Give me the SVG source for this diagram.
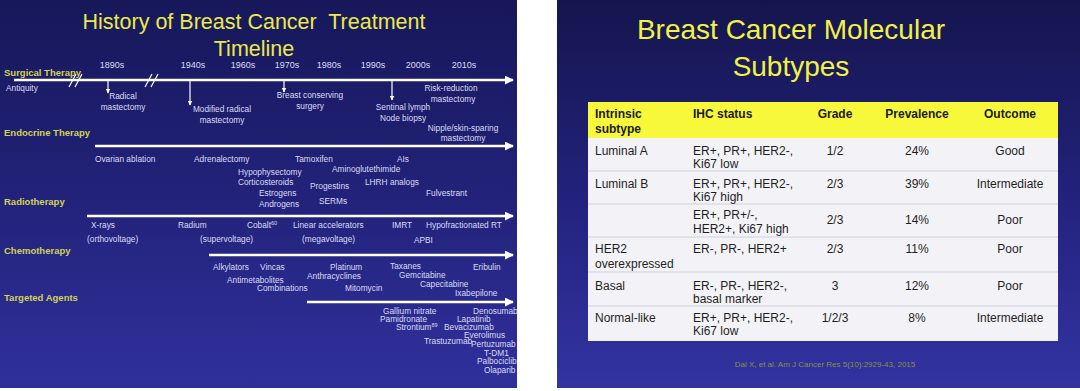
<svg xmlns="http://www.w3.org/2000/svg" width="1080" height="391" viewBox="0 0 1080 391">
<defs>
<linearGradient id="bgL" x1="0" y1="0" x2="0" y2="1">
<stop offset="0" stop-color="#17175a"/>
<stop offset="0.5" stop-color="#22227a"/>
<stop offset="1" stop-color="#30309c"/>
</linearGradient>
<linearGradient id="bgR" x1="0" y1="0" x2="0" y2="1">
<stop offset="0" stop-color="#15154e"/>
<stop offset="0.5" stop-color="#22227c"/>
<stop offset="1" stop-color="#3333a2"/>
</linearGradient>
<marker id="bigHead" viewBox="0 0 10 10" refX="9" refY="5" markerWidth="9" markerHeight="9" markerUnits="userSpaceOnUse" orient="auto">
<path d="M0,0 L10,5 L0,10 z" fill="#ffffff"/>
</marker>
<marker id="smallHead" viewBox="0 0 10 10" refX="9" refY="5" markerWidth="5" markerHeight="5" markerUnits="userSpaceOnUse" orient="auto">
<path d="M0,0 L10,5 L0,10 z" fill="#ffffff"/>
</marker>
</defs>
<style>
text{font-family:"Liberation Sans",Arial,sans-serif;}
.title{fill:#eaea48;font-size:21.5px;text-anchor:middle;}
.titleR{fill:#f2f240;font-size:28px;text-anchor:middle;}
.sec{fill:#d2d256;font-size:9.5px;font-weight:bold;}
.yr{fill:#dcdcf5;font-size:9px;text-anchor:middle;}
.s{fill:#dcdcf5;font-size:8.3px;}
.sc{fill:#dcdcf5;font-size:8.3px;text-anchor:middle;}
.axis{stroke:#ffffff;stroke-width:2.6;fill:none;}
.tick{stroke:#ffffff;stroke-width:1.2;fill:none;}
.th{fill:#1a1a1a;font-size:12px;font-weight:bold;}
.td{fill:#1e1e1e;font-size:12px;}
.thc{fill:#1a1a1a;font-size:12px;font-weight:bold;text-anchor:middle;}
.tdc{fill:#1e1e1e;font-size:12px;text-anchor:middle;}
.sep{stroke:#cfcfdc;stroke-width:1;}
.cite{fill:#8e8e3c;font-size:8px;text-anchor:middle;}
</style>
<rect x="0" y="0" width="1080" height="391" fill="#ffffff"/>
<g id="slideLeft">
<rect x="0" y="0" width="517" height="388" fill="url(#bgL)"/>
<text class="title" x="254" y="29" xml:space="preserve">History of Breast Cancer  Treatment</text>
<text class="title" x="254" y="56">Timeline</text>
</g>
<g id="years">
<text class="yr" x="112" y="68">1890s</text>
<text class="yr" x="193" y="68">1940s</text>
<text class="yr" x="243" y="68">1960s</text>
<text class="yr" x="287" y="68">1970s</text>
<text class="yr" x="329" y="68">1980s</text>
<text class="yr" x="373" y="68">1990s</text>
<text class="yr" x="418" y="68">2000s</text>
<text class="yr" x="464" y="68">2010s</text>
</g>
<g id="connectors">
<line class="axis" x1="14" y1="80" x2="513" y2="80" marker-end="url(#bigHead)"/>
<line class="axis" x1="95" y1="146" x2="513" y2="146" marker-end="url(#bigHead)"/>
<line class="axis" x1="87" y1="216" x2="513" y2="216" marker-end="url(#bigHead)"/>
<line class="axis" x1="209" y1="255" x2="513" y2="255" marker-end="url(#bigHead)"/>
<line class="axis" x1="307" y1="302" x2="513" y2="302" marker-end="url(#bigHead)"/>
<line class="tick" x1="108" y1="81" x2="108" y2="93" marker-end="url(#smallHead)"/>
<line class="tick" x1="190" y1="81" x2="190" y2="105" marker-end="url(#smallHead)"/>
<line class="tick" x1="284" y1="81" x2="284" y2="92" marker-end="url(#smallHead)"/>
<line class="tick" x1="392" y1="81" x2="392" y2="100" marker-end="url(#smallHead)"/>
<path class="tick" d="M69,87 L76,74 M75,87 L82,74 M145,87 L152,74 M151,87 L158,74" stroke-width="1.6"/>
</g>
<g id="surgical">
<text class="sec" x="4" y="76">Surgical Therapy</text>
<text class="s" x="6" y="91">Antiquity</text>
<text class="sc" x="123" y="99">Radical</text>
<text class="sc" x="123" y="110">mastectomy</text>
<text class="sc" x="222" y="112">Modified radical</text>
<text class="sc" x="222" y="123">mastectomy</text>
<text class="sc" x="310" y="98">Breast conserving</text>
<text class="sc" x="310" y="109">surgery</text>
<text class="sc" x="403" y="110">Sentinal lymph</text>
<text class="sc" x="403" y="121">Node biopsy</text>
<text class="sc" x="451" y="91">Risk-reduction</text>
<text class="sc" x="453" y="102">mastectomy</text>
<text class="sc" x="463" y="131">Nipple/skin-sparing</text>
<text class="sc" x="463" y="141">mastectomy</text>
</g>
<g id="endocrine">
<text class="sec" x="4" y="136">Endocrine Therapy</text>
<text class="s" x="95" y="162">Ovarian ablation</text>
<text class="s" x="194" y="162">Adrenalectomy</text>
<text class="s" x="295" y="162">Tamoxifen</text>
<text class="s" x="397" y="162">AIs</text>
<text class="s" x="238" y="175">Hypophysectomy</text>
<text class="s" x="332" y="172">Aminoglutethimide</text>
<text class="s" x="238" y="185">Corticosteroids</text>
<text class="s" x="310" y="189">Progestins</text>
<text class="s" x="365" y="185">LHRH analogs</text>
<text class="s" x="259" y="196">Estrogens</text>
<text class="s" x="426" y="196">Fulvestrant</text>
<text class="s" x="259" y="207">Androgens</text>
<text class="s" x="319" y="204">SERMs</text>
</g>
<g id="radiotherapy">
<text class="sec" x="4" y="205">Radiotherapy</text>
<text class="s" x="91" y="228">X-rays</text>
<text class="s" x="87" y="242">(orthovoltage)</text>
<text class="s" x="178" y="228">Radium</text>
<text class="s" x="200" y="242">(supervoltage)</text>
<text class="s" x="247" y="228">Cobalt<tspan font-size="5.5" dy="-3">60</tspan></text>
<text class="s" x="293" y="228">Linear accelerators</text>
<text class="s" x="302" y="242">(megavoltage)</text>
<text class="s" x="392" y="228">IMRT</text>
<text class="s" x="426" y="228">Hypofractionated RT</text>
<text class="s" x="414" y="243">APBI</text>
</g>
<g id="chemotherapy">
<text class="sec" x="4" y="254">Chemotherapy</text>
<text class="s" x="213" y="270">Alkylators</text>
<text class="s" x="260" y="270">Vincas</text>
<text class="s" x="330" y="270">Platinum</text>
<text class="s" x="390" y="269">Taxanes</text>
<text class="s" x="473" y="270">Eribulin</text>
<text class="s" x="227" y="283">Antimetabolites</text>
<text class="s" x="307" y="279">Anthracyclines</text>
<text class="s" x="399" y="278">Gemcitabine</text>
<text class="s" x="420" y="287">Capecitabine</text>
<text class="s" x="257" y="291">Combinations</text>
<text class="s" x="345" y="291">Mitomycin</text>
<text class="s" x="455" y="296">Ixabepilone</text>
</g>
<g id="targeted">
<text class="sec" x="4" y="301">Targeted Agents</text>
<text class="s" x="383" y="314">Gallium nitrate</text>
<text class="s" x="380" y="322">Pamidronate</text>
<text class="s" x="396" y="330">Strontium<tspan font-size="5.5" dy="-3">89</tspan></text>
<text class="s" x="424" y="344">Trastuzumab</text>
<text class="s" x="473" y="314" font-size="8">Denosumab</text>
<text class="s" x="457" y="322">Lapatinib</text>
<text class="s" x="444" y="330">Bevacizumab</text>
<text class="s" x="464" y="338">Everolimus</text>
<text class="s" x="471" y="347">Pertuzumab</text>
<text class="s" x="484" y="356">T-DM1</text>
<text class="s" x="477" y="364">Palbociclib</text>
<text class="s" x="484" y="373">Olaparib</text>
</g>
<g id="slideRight">
<rect x="557" y="0" width="523" height="388" fill="url(#bgR)"/>
<text class="titleR" x="791" y="39">Breast Cancer Molecular</text>
<text class="titleR" x="791" y="76">Subtypes</text>
</g>
<g id="table">
<rect x="588" y="102" width="470" height="36" fill="#f8f83a"/>
<rect x="588" y="138" width="470" height="203" fill="#f3f3f7"/>
<line class="sep" x1="588" y1="171" x2="1058" y2="171"/>
<line class="sep" x1="588" y1="204" x2="1058" y2="204"/>
<line class="sep" x1="588" y1="237" x2="1058" y2="237"/>
<line class="sep" x1="588" y1="272" x2="1058" y2="272"/>
<line class="sep" x1="588" y1="306" x2="1058" y2="306"/>
<text class="th" x="595" y="118">Intrinsic</text>
<text class="th" x="595" y="133">subtype</text>
<text class="th" x="693" y="118">IHC status</text>
<text class="thc" x="835" y="118">Grade</text>
<text class="thc" x="917" y="118">Prevalence</text>
<text class="thc" x="1010" y="118">Outcome</text>
<text class="td" x="595" y="155">Luminal A</text>
<text class="td" x="693" y="155">ER+, PR+, HER2-,</text>
<text class="td" x="693" y="168">Ki67 low</text>
<text class="tdc" x="835" y="155">1/2</text>
<text class="tdc" x="917" y="155">24%</text>
<text class="tdc" x="1010" y="155">Good</text>
<text class="td" x="595" y="188">Luminal B</text>
<text class="td" x="693" y="188">ER+, PR+, HER2-,</text>
<text class="td" x="693" y="201">Ki67 high</text>
<text class="tdc" x="835" y="188">2/3</text>
<text class="tdc" x="917" y="188">39%</text>
<text class="tdc" x="1010" y="188">Intermediate</text>
<text class="td" x="693" y="219">ER+, PR+/-,</text>
<text class="td" x="693" y="233">HER2+, Ki67 high</text>
<text class="tdc" x="835" y="224">2/3</text>
<text class="tdc" x="917" y="224">14%</text>
<text class="tdc" x="1010" y="224">Poor</text>
<text class="td" x="595" y="253">HER2</text>
<text class="td" x="595" y="268">overexpressed</text>
<text class="td" x="693" y="253">ER-, PR-, HER2+</text>
<text class="tdc" x="835" y="253">2/3</text>
<text class="tdc" x="917" y="253">11%</text>
<text class="tdc" x="1010" y="253">Poor</text>
<text class="td" x="595" y="290">Basal</text>
<text class="td" x="693" y="290">ER-, PR-, HER2-,</text>
<text class="td" x="693" y="303">basal marker</text>
<text class="tdc" x="835" y="290">3</text>
<text class="tdc" x="917" y="290">12%</text>
<text class="tdc" x="1010" y="290">Poor</text>
<text class="td" x="595" y="322">Normal-like</text>
<text class="td" x="693" y="322">ER+, PR+, HER2-,</text>
<text class="td" x="693" y="335">Ki67 low</text>
<text class="tdc" x="835" y="322">1/2/3</text>
<text class="tdc" x="917" y="322">8%</text>
<text class="tdc" x="1010" y="322">Intermediate</text>
<text class="cite" x="825" y="367">Dai X, et al. Am J Cancer Res 5(10):2929-43, 2015</text>
</g>
</svg>
